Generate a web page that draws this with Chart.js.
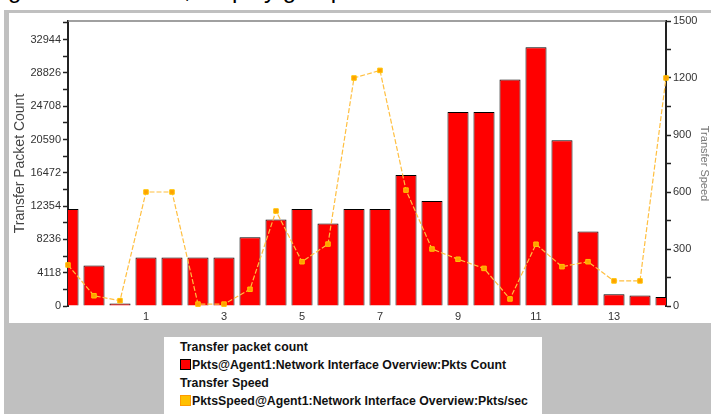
<!DOCTYPE html>
<html>
<head>
<meta charset="utf-8">
<script src="https://cdn.jsdelivr.net/npm/chart.js@4/dist/chart.umd.min.js"></script>
<style>
  html, body { margin: 0; padding: 0; background: #ffffff; }
  body { width: 711px; height: 414px; position: relative; overflow: hidden; font-family: "Liberation Sans", Arial, sans-serif; }
  #heading { position: absolute; left: -12px; top: -20px; font-size: 24px; line-height: 20px; color: #000; white-space: nowrap; }
  #frame { position: absolute; left: 4px; top: 10px; width: 707px; height: 404px; background: #c0c0c0; }
  #panel { position: absolute; left: 9px; top: 13px; width: 702px; height: 310px; background: #ffffff; }
  #chartBox { position: absolute; left: 0; top: 0; width: 711px; height: 414px; }
  #legend { position: absolute; left: 164px; top: 337px; width: 378px; height: 77px; background: #ffffff; font-size: 12.3px; font-weight: bold; color: #111; }
  #legend .row { position: absolute; left: 16px; white-space: nowrap; line-height: 13px; }
  #legend .sw { display: inline-block; width: 9px; height: 9px; vertical-align: -1px; margin-right: 1px; }
</style>
</head>
<body>
<div id="heading">Figure 12 Network, Display group</div>
<div id="frame"></div>
<div id="panel"></div>
<div id="chartBox"><canvas id="chart" width="711" height="414"></canvas></div>
<div id="legend">
  <div class="row" style="top:4px">Transfer packet count</div>
  <div class="row" style="top:22px"><span class="sw" style="background:#ff0000;border:1px solid #000"></span>Pkts@Agent1:Network Interface Overview:Pkts Count</div>
  <div class="row" style="top:40px">Transfer Speed</div>
  <div class="row" style="top:58px"><span class="sw" style="background:#ffc000;border:1px solid #ff9a00"></span>PktsSpeed@Agent1:Network Interface Overview:Pkts/sec</div>
</div>
<script>
// Sample slots along the time axis; only every third slot carries a label
const sampleLabels = ['', '', '', '1', '', '', '3', '', '', '5', '', '', '7', '', '', '9', '', '', '11', '', '', '13', '', ''];

// Transfer packet count per sample (left axis)
const packetCount = [12000, 5000, 300, 6000, 6000, 6000, 6000, 8500, 10700, 12000, 10200, 12000,
                     12000, 16200, 13000, 24000, 24000, 28000, 32000, 20500, 9200, 1450, 1300, 1100];

// Transfer speed per sample, packets/sec (right axis)
const transferSpeed = [216, 54, 28, 600, 600, 10, 10, 88, 500, 233, 326, 1200,
                       1240, 610, 300, 246, 198, 37, 325, 207, 233, 132, 132, 1200];

// Labelled ticks on each value axis
const countTickLabels = [0, 4118, 8236, 12354, 16472, 20590, 24708, 28826, 32944];
const speedTickLabels = [0, 300, 600, 900, 1200, 1500];

const countStep = countTickLabels[1] / 2;   // minor tick spacing, left axis
const speedStep = speedTickLabels[1] / 2;   // minor tick spacing, right axis
const countMax = 35250;
const speedMax = 1500;

// Thin border line along the top of the plot
const topLine = {
  id: 'topLine',
  afterDraw(chart) {
    const { ctx, chartArea } = chart;
    ctx.save();
    ctx.strokeStyle = '#808080';
    ctx.lineWidth = 1.5;
    ctx.beginPath();
    ctx.moveTo(chartArea.left, chartArea.top);
    ctx.lineTo(chartArea.right, chartArea.top);
    ctx.stroke();
    ctx.restore();
  }
};

const tickFont = { family: '"Liberation Sans", Arial, sans-serif', size: 11 };

new Chart(document.getElementById('chart'), {
  type: 'bar',
  data: {
    labels: sampleLabels,
    datasets: [
      {
        type: 'line',
        label: 'PktsSpeed@Agent1:Network Interface Overview:Pkts/sec',
        data: transferSpeed,
        yAxisID: 'ySpeed',
        borderColor: '#ffbf40',
        borderWidth: 1.2,
        borderDash: [5, 2],
        pointStyle: 'rect',
        pointRadius: 3.2,
        pointBackgroundColor: '#ffa000',
        pointBorderColor: '#ffc400',
        pointBorderWidth: 1,
        tension: 0,
        clip: false,
        order: 0
      },
      {
        type: 'bar',
        label: 'Pkts@Agent1:Network Interface Overview:Pkts Count',
        data: packetCount,
        yAxisID: 'yCount',
        backgroundColor: '#ff0000',
        borderColor: '#000000',
        borderWidth: 1,
        categoryPercentage: 1,
        barPercentage: 0.81,
        clip: 0,
        order: 1
      }
    ]
  },
  options: {
    responsive: false,
    animation: false,
    events: [],
    layout: { padding: { left: 10, right: 0, top: 21, bottom: 90 } },
    plugins: { legend: { display: false }, tooltip: { enabled: false } },
    scales: {
      x: {
        type: 'category',
        offset: false,
        grid: { display: false, drawTicks: false },
        border: { display: false },
        ticks: { autoSkip: false, maxRotation: 0, minRotation: 0, padding: 4, color: '#333', font: tickFont },
        afterFit(scale) { scale.height = 18; }
      },
      yCount: {
        type: 'linear',
        position: 'left',
        min: 0,
        max: countMax,
        afterBuildTicks(scale) {
          const t = [];
          for (let v = 0; v <= countMax; v += countStep) t.push({ value: v });
          scale.ticks = t;
        },
        ticks: {
          padding: 2,
          color: '#333',
          font: tickFont,
          callback: (v) => countTickLabels.includes(v) ? String(v) : ''
        },
        grid: { drawOnChartArea: false, tickLength: 5, color: '#222', tickWidth: 1.5 },
        border: { display: true, color: '#222', width: 2 },
        title: {
          display: true,
          text: 'Transfer Packet Count',
          color: '#444',
          font: { family: '"Liberation Sans", Arial, sans-serif', size: 14 },
          padding: { top: 2, bottom: 0 }
        },
        afterFit(scale) { scale.width = 58; }
      },
      ySpeed: {
        type: 'linear',
        position: 'right',
        min: 0,
        max: speedMax,
        afterBuildTicks(scale) {
          const t = [];
          for (let v = 0; v <= speedMax; v += speedStep) t.push({ value: v });
          scale.ticks = t;
        },
        ticks: {
          padding: 2,
          color: '#333',
          font: tickFont,
          callback: (v) => speedTickLabels.includes(v) ? String(v) : ''
        },
        grid: { drawOnChartArea: false, tickLength: 5, color: '#222', tickWidth: 1.5 },
        border: { display: true, color: '#222', width: 2 },
        title: {
          display: true,
          text: 'Transfer Speed',
          color: '#777',
          font: { family: '"Liberation Sans", Arial, sans-serif', size: 11 },
          padding: { top: 0, bottom: 0 }
        },
        afterFit(scale) { scale.width = 45; }
      }
    }
  },
  plugins: [topLine]
});
</script>
</body>
</html>
